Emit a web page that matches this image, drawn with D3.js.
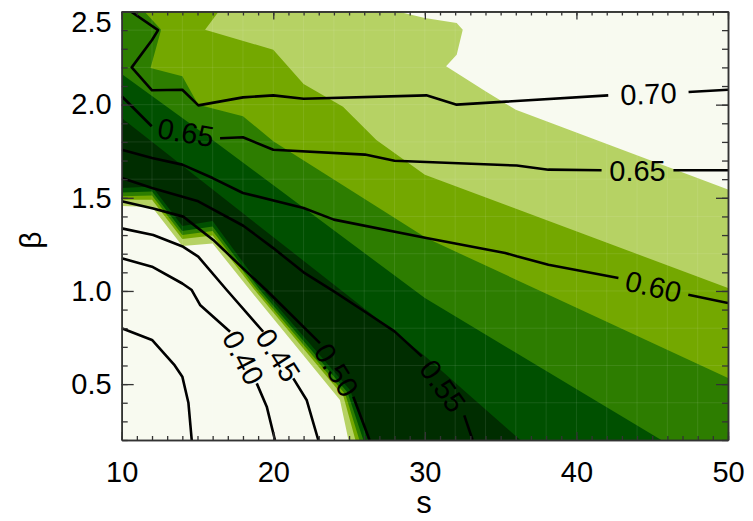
<!DOCTYPE html>
<html>
<head>
<meta charset="utf-8">
<script src="https://cdn.jsdelivr.net/npm/d3@7"></script>
<style>
  body { margin: 0; background: #fff; }
  text { font-family: "Liberation Sans", Arial, sans-serif; fill: #000; }
</style>
</head>
<body>
<script>
// axis ticks
var sTicks = [10, 20, 30, 40, 50];
var betaTicks = [0.5, 1.0, 1.5, 2.0, 2.5];

// band colours, from light to dark
var bandColors = ["#f8faf0", "#b6d264", "#74a800", "#2d7d00", "#005000", "#002d00"];

// upper-right band edges [s, beta]; area above each edge gets the lighter colour
var edgeWhiteLight = [[28.2,2.5],[30,2.465],[32.1,2.438],[32.5,2.402],[32.1,2.268],[31.4,2.206],[34,2.072],[36,1.973],[50,1.544]];
var edgeLightMid = [[16.4,2.5],[15.5,2.402],[20,2.295],[22,2.111],[24.6,1.989],[26.8,1.81],[30,1.624],[50,1.016]];
var edgeMidGreen = [[11.5,2.5],[12.6,2.402],[11.9,2.197],[14,2.152],[15.05,2.0],[18,1.938],[20,1.803],[30.1,1.284],[50,0.533]];
var edgeGreenDark = [[10,2.165],[16,1.81],[30,0.962],[45.6,0.2]];
var edgeDarkBlack = [[10,1.928],[30,0.651],[36.3,0.2]];

// lower-left thin band edges; area below each edge gets the lighter colour
var edgeBlackDark2 = [[10,1.553],[12,1.561],[14,1.349],[16,1.376],[19.34,1.005],[25.06,0.468],[26.27,0.2]];
var edgeDarkGreen2 = [[10,1.529],[12,1.534],[14,1.322],[16,1.346],[19.12,1.005],[24.9,0.455],[25.94,0.2]];
var edgeGreenMid2 = [[10,1.509],[12,1.512],[14,1.3],[16,1.322],[18.94,1.005],[24.76,0.444],[25.68,0.2]];
var edgeMidLight2 = [[10,1.49],[12,1.49],[14,1.279],[16,1.297],[18.77,1.005],[24.63,0.434],[25.42,0.2]];
var edgeLightWhite2 = [[10,1.456],[12,1.451],[14,1.241],[16,1.255],[18.46,1.005],[24.4,0.415],[24.96,0.2]];

// contour lines, split where the labels sit
var line35 = [[[10,0.8],[12,0.737],[13.5,0.6],[14,0.54],[14.4,0.4],[14.62,0.2]]];
var line40 = [[[10,1.175],[12,1.13],[14,1.04],[14.62,1.005],[15.17,0.925],[17.15,0.781]],
              [[18.91,0.504],[19.57,0.379],[20.11,0.2]]];
var line45 = [[[10,1.336],[12.08,1.3],[14.06,1.237],[15.05,1.184],[16.93,1.005],[19.34,0.781]],
              [[21.32,0.531],[22.2,0.415],[22.97,0.2]]];
var line50 = [[[10,1.481],[12.08,1.443],[14.06,1.399],[16.04,1.274],[18.02,1.12],[19.6,1.0],[23.08,0.72]],
              [[25.28,0.432],[26.35,0.2]]];
var line55 = [[[10,1.606],[12,1.553],[15.05,1.481],[18.02,1.35],[20,1.23],[22,1.1],[24,0.998],[26,0.891],[28,0.783],[29.8,0.649]],
              [[32.6,0.332],[33.15,0.2]]];
var line60 = [[[10,1.758],[12,1.714],[14,1.678],[16,1.606],[18,1.526],[22,1.445],[24,1.383],[30.1,1.284],[35.3,1.204],[36.06,1.186],[38.15,1.141],[42.77,1.07]],
              [[47.38,0.98],[50,0.935]]];
var line65 = [[[10,2.045],[11.98,1.884]],
              [[16.49,1.82],[18,1.825],[20,1.758],[26.05,1.732],[28,1.699],[30.1,1.692],[36.06,1.673],[38.15,1.651],[41.66,1.648]],
              [[46.4,1.648],[50,1.648]]];
var line70 = [[[10.6,2.5],[12.4,2.4],[12,2.347],[10.66,2.2],[12,2.077],[14,2.08],[15.06,1.996],[18,2.039],[20,2.05],[22,2.032],[30.1,2.05],[32.1,2.0],[42.1,2.05]],
              [[47.4,2.068],[50,2.08]]];

var levels = [0.35, 0.40, 0.45, 0.50, 0.55, 0.60, 0.65, 0.70];
var levelLines = [line35, line40, line45, line50, line55, line60, line65, line70];

// faint cell edges of the underlying grid
var gridS = d3.range(12, 50, 2);
var gridBeta = d3.range(2, 13).map(function(d) { return d / 5; });

var width = 753, height = 521;
var plotL = 121.7, plotR = 728, plotT = 11.5, plotB = 440;

var x = d3.scaleLinear().domain([10, 50]).range([plotL, plotR]);
var y = d3.scaleLinear().domain([0.2, 2.5]).range([plotB, plotT]);

var svg = d3.select("body").append("svg")
    .attr("width", width)
    .attr("height", height);

svg.append("clipPath").attr("id", "plotclip")
  .append("rect")
    .attr("x", plotL).attr("y", plotT)
    .attr("width", plotR - plotL).attr("height", plotB - plotT);

var plot = svg.append("g").attr("clip-path", "url(#plotclip)");

var line = d3.line().x(function(d) { return x(d[0]); }).y(function(d) { return y(d[1]); });

// base: darkest band fills the whole frame
plot.append("rect")
    .attr("x", plotL).attr("y", plotT)
    .attr("width", plotR - plotL).attr("height", plotB - plotT)
    .attr("fill", bandColors[5]);

// upper-right bands, dark to light, each closed round the top right corner
var upper = [
  {edge: edgeDarkBlack, color: 4, close: [[50,0.2],[50,2.5],[10,2.5]]},
  {edge: edgeGreenDark, color: 3, close: [[50,0.2],[50,2.5],[10,2.5]]},
  {edge: edgeMidGreen, color: 2, close: [[50,2.5]]},
  {edge: edgeLightMid, color: 1, close: [[50,2.5]]},
  {edge: edgeWhiteLight, color: 0, close: [[50,2.5]]}
];
upper.forEach(function(b) {
  plot.append("path")
      .attr("d", line(b.edge.concat(b.close)) + "Z")
      .attr("fill", bandColors[b.color]);
});

// lower-left thin bands, closed round the bottom left corner
var lower = [
  {edge: edgeBlackDark2, color: 4},
  {edge: edgeDarkGreen2, color: 3},
  {edge: edgeGreenMid2, color: 2},
  {edge: edgeMidLight2, color: 1},
  {edge: edgeLightWhite2, color: 0}
];
lower.forEach(function(b) {
  plot.append("path")
      .attr("d", line(b.edge.concat([[10,0.2]])) + "Z")
      .attr("fill", bandColors[b.color]);
});

// faint grid seams seen in the filled contours
plot.append("g").selectAll("line.gs").data(gridS).enter().append("line")
    .attr("x1", function(d) { return x(d); }).attr("x2", function(d) { return x(d); })
    .attr("y1", plotT).attr("y2", plotB)
    .attr("stroke", "#fff").attr("stroke-opacity", 0.09).attr("stroke-width", 1);
plot.append("g").selectAll("line.gb").data(gridBeta).enter().append("line")
    .attr("y1", function(d) { return y(d); }).attr("y2", function(d) { return y(d); })
    .attr("x1", plotL).attr("x2", plotR)
    .attr("stroke", "#fff").attr("stroke-opacity", 0.09).attr("stroke-width", 1);

// contour lines and their labels
levelLines.forEach(function(segs, i) {
  segs.forEach(function(seg) {
    plot.append("path")
        .attr("d", line(seg))
        .attr("fill", "none")
        .attr("stroke", "#000")
        .attr("stroke-width", 2.6)
        .attr("stroke-linejoin", "round");
  });
  for (var k = 0; k < segs.length - 1; k++) {
    var a = segs[k][segs[k].length - 1], b = segs[k + 1][0];
    var x0 = x(a[0]), y0 = y(a[1]), x1 = x(b[0]), y1 = y(b[1]);
    var ang = Math.atan2(y1 - y0, x1 - x0) * 180 / Math.PI;
    plot.append("text")
        .attr("transform", "translate(" + ((x0 + x1) / 2) + "," + ((y0 + y1) / 2) + ")rotate(" + ang + ")")
        .attr("text-anchor", "middle")
        .attr("dy", "0.36em")
        .style("font-size", "29px")
        .text(levels[i].toFixed(2));
  }
});

// frame with inward ticks on all four sides
function styleAxis(g) {
  g.select(".domain").attr("stroke", "#333").attr("stroke-width", 1.5);
  g.selectAll(".tick line").attr("stroke", "#333").attr("stroke-width", 1.3);
  g.selectAll("text").style("font-size", "29px").attr("fill", "#000");
}
var sMinor = d3.range(10, 51);
var betaMinor = d3.range(2, 26).map(function(d) { return d / 10; });

svg.append("g").attr("transform", "translate(0," + plotB + ")")
    .call(d3.axisBottom(x).tickValues(sMinor).tickSize(-4).tickSizeOuter(0).tickFormat(""))
    .call(styleAxis);
svg.append("g").attr("transform", "translate(0," + plotB + ")")
    .call(d3.axisBottom(x).tickValues(sTicks).tickSize(-8).tickSizeOuter(0).tickPadding(21).tickFormat(d3.format("d")))
    .call(styleAxis);
svg.append("g").attr("transform", "translate(0," + plotT + ")")
    .call(d3.axisTop(x).tickValues(sMinor).tickSize(-4).tickSizeOuter(0).tickFormat(""))
    .call(styleAxis);
svg.append("g").attr("transform", "translate(0," + plotT + ")")
    .call(d3.axisTop(x).tickValues(sTicks).tickSize(-8).tickSizeOuter(0).tickFormat(""))
    .call(styleAxis);

svg.append("g").attr("transform", "translate(" + plotL + ",0)")
    .call(d3.axisLeft(y).tickValues(betaMinor).tickSize(-6).tickSizeOuter(0).tickFormat(""))
    .call(styleAxis);
var yAxis = svg.append("g").attr("transform", "translate(" + plotL + ",0)")
    .call(d3.axisLeft(y).tickValues(betaTicks).tickSize(-12).tickSizeOuter(0).tickPadding(10).tickFormat(d3.format(".1f")))
    .call(styleAxis);
// top label sits a little lower than its tick
yAxis.selectAll(".tick text").filter(function(d) { return d === 2.5; }).attr("dy", "0.68em");

svg.append("g").attr("transform", "translate(" + plotR + ",0)")
    .call(d3.axisRight(y).tickValues(betaMinor).tickSize(-6).tickSizeOuter(0).tickFormat(""))
    .call(styleAxis);
svg.append("g").attr("transform", "translate(" + plotR + ",0)")
    .call(d3.axisRight(y).tickValues(betaTicks).tickSize(-12).tickSizeOuter(0).tickFormat(""))
    .call(styleAxis);

// axis titles
svg.append("text")
    .attr("x", 424).attr("y", 513)
    .attr("text-anchor", "middle")
    .style("font-size", "31px")
    .text("s");
svg.append("text")
    .attr("transform", "translate(41,240)rotate(-90)")
    .attr("text-anchor", "middle")
    .style("font-size", "30px")
    .text("β");
</script>
</body>
</html>
